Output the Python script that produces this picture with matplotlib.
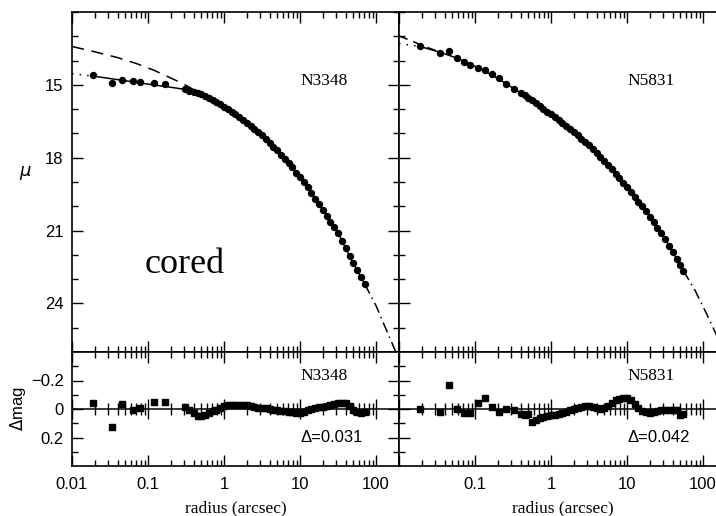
import numpy as np
import matplotlib
matplotlib.use("Agg")
import matplotlib.pyplot as plt

# ---- N3348 (cored) ----
# sparse inner points
n3348_r_in = [0.0191, 0.0334, 0.046, 0.063, 0.079, 0.119, 0.166]
n3348_mu_in = [14.60, 14.91, 14.81, 14.85, 14.88, 14.93, 14.98]
n3348_dm_in = [-0.04, 0.126, -0.037, 0.01, -0.01, -0.049, -0.049]
# dense outer points
n3348_r = [0.31, 0.35, 0.40, 0.45, 0.50, 0.56, 0.63, 0.71, 0.79, 0.89,
           1.0, 1.12, 1.26, 1.41, 1.58, 1.78, 2.0, 2.24, 2.51, 2.82,
           3.16, 3.55, 3.98, 4.47, 5.01, 5.62, 6.31, 7.08, 7.94, 8.91,
           10.0, 11.2, 12.6, 14.1, 15.8, 17.8, 20.0, 22.4, 25.1, 28.2,
           31.6, 35.5, 39.8, 44.7, 50.1, 56.2, 63.1, 70.8]
n3348_mu = [15.19, 15.245, 15.29, 15.335, 15.38, 15.46, 15.54, 15.62, 15.70, 15.80,
            15.90, 16.00, 16.10, 16.21, 16.33, 16.44, 16.55, 16.68, 16.82, 16.95,
            17.08, 17.24, 17.39, 17.55, 17.70, 17.88, 18.05, 18.23, 18.40, 18.61,
            18.81, 19.02, 19.22, 19.45, 19.69, 19.92, 20.15, 20.39, 20.63, 20.86,
            21.10, 21.41, 21.73, 22.04, 22.35, 22.63, 22.92, 23.20]
n3348_dm = [-0.014, 0.01, 0.03, 0.05, 0.05, 0.04, 0.03, 0.015, 0.005, -0.01,
            -0.02, -0.025, -0.028, -0.028, -0.028, -0.028, -0.025, -0.02, -0.015, -0.01,
            -0.01, -0.005, 0.0, 0.005, 0.01, 0.012, 0.015, 0.02, 0.024, 0.026,
            0.026, 0.02, 0.01, 0.0, -0.01, -0.015, -0.014, -0.02, -0.025, -0.033,
            -0.04, -0.045, -0.04, -0.02, 0.01, 0.02, 0.025, 0.02]
# model curves
n3348_fit_r = [0.0191, 0.05, 0.1, 0.2, 0.31]
n3348_fit_mu = [14.64, 14.83, 14.97, 15.10, 15.19]
n3348_dot_r = [0.01, 0.0191]
n3348_dot_mu = [14.54, 14.64]
n3348_sersic_r = [0.01, 0.02, 0.04, 0.07, 0.12, 0.2, 0.3, 0.4, 0.5]
n3348_sersic_mu = [13.42, 13.64, 13.88, 14.12, 14.40, 14.72, 14.98, 15.20, 15.37]
n3348_ext_r = [70.8, 100.0, 141.0, 200.0]
n3348_ext_mu = [23.20, 24.10, 25.20, 26.30]

# ---- N5831 ----
n5831_r_in = [0.019, 0.0348, 0.0458, 0.058, 0.071, 0.087, 0.109, 0.137, 0.167, 0.206, 0.258, 0.325]
n5831_mu_in = [13.40, 13.68, 13.61, 13.91, 14.05, 14.17, 14.29, 14.39, 14.55, 14.73, 14.95, 15.18]
n5831_dm_in = [0.0, 0.02, -0.166, 0.0, 0.026, 0.026, -0.04, -0.08, -0.014, 0.021, 0.0, 0.007]
n5831_r = [0.40, 0.45, 0.50, 0.56, 0.63, 0.71, 0.79, 0.89,
           1.0, 1.12, 1.26, 1.41, 1.58, 1.78, 2.0, 2.24, 2.51, 2.82,
           3.16, 3.55, 3.98, 4.47, 5.01, 5.62, 6.31, 7.08, 7.94, 8.91,
           10.0, 11.2, 12.6, 14.1, 15.8, 17.8, 20.0, 22.4, 25.1, 28.2,
           31.6, 35.5, 39.8, 44.7, 50.1, 55.0]
n5831_mu = [15.33, 15.43, 15.54, 15.64, 15.76, 15.87, 15.99, 16.10,
            16.22, 16.34, 16.46, 16.58, 16.70, 16.82, 16.95, 17.08, 17.22, 17.35,
            17.48, 17.64, 17.80, 17.96, 18.12, 18.28, 18.47, 18.66, 18.84, 19.03,
            19.22, 19.42, 19.61, 19.81, 20.00, 20.20, 20.43, 20.66, 20.89, 21.12,
            21.35, 21.62, 21.89, 22.16, 22.43, 22.65]
n5831_dm = [0.035, 0.04, 0.035, 0.09, 0.075, 0.065, 0.058, 0.05,
            0.045, 0.04, 0.035, 0.028, 0.02, 0.01, 0.0, -0.01, -0.014, -0.02,
            -0.02, -0.015, -0.005, 0.0, -0.01, -0.02, -0.04, -0.06, -0.07, -0.08,
            -0.075, -0.06, -0.035, -0.01, 0.015, 0.022, 0.026, 0.02, 0.012, 0.01,
            0.007, 0.005, 0.006, 0.01, 0.04, 0.035]
n5831_fit_r = [0.019, 0.0348, 0.058, 0.087, 0.137, 0.206, 0.325, 0.40]
n5831_fit_mu = [13.42, 13.66, 13.90, 14.15, 14.45, 14.76, 15.16, 15.33]
n5831_dot_r = [0.01, 0.019]
n5831_dot_mu = [13.30, 13.42]
n5831_sersic_r = [0.01, 0.015, 0.02, 0.03]
n5831_sersic_mu = [12.99, 13.20, 13.38, 13.58]
n5831_ext_r = [55.0, 79.4, 112.0, 158.0, 200.0]
n5831_ext_mu = [22.65, 23.50, 24.45, 25.45, 26.1]

fig = plt.figure(figsize=(7.16, 5.16), dpi=100)
W, H = 716.0, 516.0


def box(x0, y0, x1, y1):
    return [x0 / W, 1 - y1 / H, (x1 - x0) / W, (y1 - y0) / H]


ax1 = fig.add_axes(box(72, 12, 399, 352))
ax2 = fig.add_axes(box(399, 12, 726, 352))
ax3 = fig.add_axes(box(72, 352, 399, 466))
ax4 = fig.add_axes(box(399, 352, 726, 466))

num_font = {"family": "Liberation Sans", "size": 12}
ser_font = {"family": "Liberation Serif", "size": 12.5}

xmin, xmax = 0.01, 200.0
for ax in (ax1, ax2, ax3, ax4):
    ax.set_xscale("log")
    ax.set_xlim(xmin, xmax)
    ax.tick_params(which="both", direction="in", top=True, right=True, width=1.0)
    ax.tick_params(which="major", length=8)
    ax.tick_params(which="minor", length=4)
    ax.tick_params(axis="y", pad=6)
    for s in ax.spines.values():
        s.set_linewidth(1.2)

# right-hand panels run off the edge of the figure: no right frame
for ax in (ax2, ax4):
    ax.tick_params(which="both", right=False)
    ax.spines["right"].set_visible(False)

for ax in (ax1, ax2):
    ax.set_ylim(26, 12)
    ax.set_yticks([15, 18, 21, 24])
    ax.set_yticks(np.arange(12, 27, 1), minor=True)
    ax.tick_params(labelbottom=False)
for ax in (ax3, ax4):
    ax.set_ylim(0.4, -0.4)
    ax.set_yticks([-0.2, 0, 0.2])
    ax.set_yticks([-0.3, -0.1, 0.1, 0.3], minor=True)

ax2.tick_params(labelleft=False)
ax4.tick_params(labelleft=False)

ax1.set_yticklabels(["15", "18", "21", "24"], fontdict=num_font)
ax3.set_yticklabels(["\u22120.2", "0", "0.2"], fontdict=num_font)

ax3.set_xticks([0.01, 0.1, 1, 10, 100])
ax3.set_xticklabels(["0.01", "0.1", "1", "10", "100"], fontdict=num_font)
ax4.set_xticks([0.01, 0.1, 1, 10, 100])
ax4.set_xticklabels(["", "0.1", "1", "10", "100"], fontdict=num_font)
for ax in (ax3, ax4):
    ax.tick_params(axis="x", pad=8)
    ax.set_xlabel("radius (arcsec)", fontdict=ser_font, labelpad=6)

ax1.set_ylabel(r"$\mu$", fontsize=13, rotation=0, labelpad=14)
ax3.set_ylabel(r"$\Delta$mag", fontdict=num_font, labelpad=2)

lw = 1.1
ms = 4.3
# upper panels
ax1.plot(n3348_sersic_r, n3348_sersic_mu, color="black", lw=lw, ls=(0, (8, 5)))
ax1.plot(n3348_dot_r, n3348_dot_mu, color="black", lw=lw, ls=(0, (1, 4)))
ax1.plot(n3348_fit_r + n3348_r, n3348_fit_mu + n3348_mu, color="black", lw=lw)
ax1.plot(n3348_ext_r, n3348_ext_mu, color="black", lw=lw, ls=(0, (7, 3, 1, 3)))
ax1.plot(n3348_r_in + n3348_r, n3348_mu_in + n3348_mu, "o", color="black", ms=ms)

ax2.plot(n5831_sersic_r, n5831_sersic_mu, color="black", lw=lw, ls=(0, (6, 4)))
ax2.plot(n5831_dot_r, n5831_dot_mu, color="black", lw=lw, ls=(0, (1, 4)))
ax2.plot(n5831_fit_r + n5831_r, n5831_fit_mu + n5831_mu, color="black", lw=lw)
ax2.plot(n5831_ext_r, n5831_ext_mu, color="black", lw=lw, ls=(0, (7, 3, 1, 3)))
ax2.plot(n5831_r_in + n5831_r, n5831_mu_in + n5831_mu, "o", color="black", ms=ms)

# residual panels
ax3.plot(n3348_r_in + n3348_r, n3348_dm_in + n3348_dm, "s", color="black", ms=ms)
ax4.plot(n5831_r_in + n5831_r, n5831_dm_in + n5831_dm, "s", color="black", ms=ms)

# zero line with tick marks crossing it
major_x = [0.01, 0.1, 1, 10, 100]
minor_x = [m * d for d in [0.01, 0.1, 1, 10, 100] for m in range(2, 10)]
for ax in (ax3, ax4):
    ax.axhline(0, color="black", lw=1.1)
    ax.plot(major_x, [0] * len(major_x), "|", color="black", ms=14, mew=1.0)
    ax.plot(minor_x, [0] * len(minor_x), "|", color="black", ms=8, mew=1.0)

# labels
ax1.text(10, 14.85, "N3348", fontdict=ser_font, va="center", ha="left")
ax2.text(10, 14.85, "N5831", fontdict=ser_font, va="center", ha="left")
ax3.text(10, -0.23, "N3348", fontdict=ser_font, va="center", ha="left")
ax4.text(10, -0.23, "N5831", fontdict=ser_font, va="center", ha="left")
ax3.text(10, 0.2, "\u0394=0.031", fontdict=num_font, va="center", ha="left")
ax4.text(10, 0.2, "\u0394=0.042", fontdict=num_font, va="center", ha="left")
ax1.text(0.346, 0.256, "cored", transform=ax1.transAxes, family="Liberation Serif",
         fontsize=26, ha="center", va="center")

fig.savefig("out.png", dpi=100)
